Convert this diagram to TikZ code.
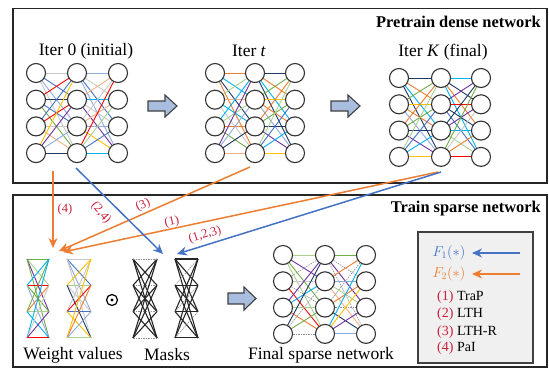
\documentclass[tikz,border=0pt]{standalone}
\usepackage{fontspec}
\setmainfont{Liberation Serif}
\usetikzlibrary{arrows.meta,calc}
\pgfdeclarelayer{bg}
\pgfsetlayers{bg,main}

% palette for the weight wires
\definecolor{c0}{HTML}{ED7D31}
\definecolor{c1}{HTML}{FFC000}
\definecolor{c2}{HTML}{70AD47}
\definecolor{c3}{HTML}{4472C4}
\definecolor{c4}{HTML}{203864}
\definecolor{c5}{HTML}{FF0000}
\definecolor{c6}{HTML}{7030A0}
\definecolor{c7}{HTML}{C8C8C8}
\definecolor{c8}{HTML}{00B0F0}
\definecolor{c9}{HTML}{F4B183}
\definecolor{c10}{HTML}{A9D18E}
\definecolor{c11}{HTML}{8FAADC}
\definecolor{flowO}{HTML}{ED7D31}
\definecolor{flowB}{HTML}{4472C4}
\definecolor{lblred}{HTML}{C8203C}
\definecolor{blockfill}{HTML}{A9BEDF}
\definecolor{legendfill}{HTML}{F0F0F0}

\tikzset{
  neuron/.style={circle,draw=black!80,fill=white,line width=1.1pt,minimum size=19pt,inner sep=0pt},
  wire/.style={line width=0.9pt},
  maskwire/.style={line width=1.1pt,black!85},
  prunedwire/.style={line width=0.6pt,dashed,dash pattern=on 1.5pt off 1pt,black!45},
  flow/.style={line width=1.5pt,-{Stealth[length=10pt,width=9pt]}},
  numlabel/.style={text=lblred,font=\fontsize{12.5}{14}\selectfont,inner sep=1pt},
  caption/.style={font=\fontsize{17.5}{20}\selectfont,inner sep=0pt},
  boxtitle/.style={font=\fontsize{16.4}{19}\selectfont\bfseries,inner sep=0pt,anchor=east},
  panel/.style={draw=black!85,line width=1.6pt},
  blockarrow/.style={draw=black!75,fill=blockfill,line width=1.1pt,line join=miter},
  legitem/.style={font=\fontsize{14}{16}\selectfont,inner sep=0pt,anchor=west},
}

% dense three-layer net: prefix, x1, x2, x3, top y, row gap, seed
\newcommand\densenet[7]{%
  \foreach \cc/\xx in {1/#2,2/#3,3/#4}{%
    \foreach \rr in {1,...,4}{%
      \node[neuron] (#1-\cc-\rr) at (\xx,{#5+(\rr-1)*#6}) {};
    }%
  }%
  \begin{pgfonlayer}{bg}
  \foreach \lay/\nxt in {1/2,2/3}{%
    \foreach \i in {1,...,4}{%
      \foreach \j in {1,...,4}{%
        \pgfmathtruncatemacro\ci{mod(\i*7+\j*5+\i*\j*3+\lay*4+#7,12)}%
        \draw[wire,color=c\ci] (#1-\lay-\i.center) -- (#1-\nxt-\j.center);
      }%
    }%
  }%
  \end{pgfonlayer}
}

% sparse three-layer net: some wires pruned (dashed grey)
\newcommand\sparsenet[7]{%
  \foreach \cc/\xx in {1/#2,2/#3,3/#4}{%
    \foreach \rr in {1,...,4}{%
      \node[neuron] (#1-\cc-\rr) at (\xx,{#5+(\rr-1)*#6}) {};
    }%
  }%
  \begin{pgfonlayer}{bg}
  \foreach \lay/\nxt in {1/2,2/3}{%
    \foreach \i in {1,...,4}{%
      \foreach \j in {1,...,4}{%
        \pgfmathtruncatemacro\ci{mod(\i*7+\j*5+\i*\j*3+\lay*4+#7,12)}%
        \pgfmathtruncatemacro\sk{mod(\i*3+\j*2+\lay+#7,4)}%
        \ifnum\sk=0
          \draw[prunedwire] (#1-\lay-\i.center) -- (#1-\nxt-\j.center);
        \else
          \draw[wire,color=c\ci] (#1-\lay-\i.center) -- (#1-\nxt-\j.center);
        \fi
      }%
    }%
  }%
  \end{pgfonlayer}
}

% bare bipartite wiring between two columns of points: prefix, x left, x right, top y, row gap, seed
\newcommand\weightgraph[6]{%
  \foreach \rr in {1,...,4}{%
    \coordinate (#1-l-\rr) at (#2,{#4+(\rr-1)*#5});
    \coordinate (#1-r-\rr) at (#3,{#4+(\rr-1)*#5});
  }%
  \foreach \i in {1,...,4}{%
    \foreach \j in {1,...,4}{%
      \pgfmathtruncatemacro\ci{mod(\i*5+\j*7+\i*\j+#6,12)}%
      \draw[wire,color=c\ci] (#1-l-\i) -- (#1-r-\j);
    }%
  }%
}

\newcommand\maskgraph[6]{%
  \foreach \rr in {1,...,4}{%
    \coordinate (#1-l-\rr) at (#2,{#4+(\rr-1)*#5});
    \coordinate (#1-r-\rr) at (#3,{#4+(\rr-1)*#5});
  }%
  \foreach \i in {1,...,4}{%
    \foreach \j in {1,...,4}{%
      \pgfmathtruncatemacro\sk{mod(\i*3+\j*2+#6,5)}%
      \ifnum\sk=0
        \draw[prunedwire] (#1-l-\i) -- (#1-r-\j);
      \else
        \draw[maskwire] (#1-l-\i) -- (#1-r-\j);
      \fi
    }%
  }%
}

\begin{document}
\begin{tikzpicture}[x=1pt,y=-1pt]
  \useasboundingbox (0,0) rectangle (549,368);

  % ---------- panels ----------
  \draw[panel] (13,8.5) rectangle (547,183);
  \draw[panel] (13,195) rectangle (547,367);
  \node[boxtitle] (t1) at (541,22) {Pretrain dense network};
  \node[boxtitle] (t2) at (541,209) {Train sparse network};

  % ---------- pretraining iterations ----------
  \node[caption] (l0) at (86,51) {Iter 0 (initial)};
  \node[caption] (lt) at (249,51) {Iter \textit{t}};
  \node[caption] (lk) at (443,52) {Iter \textit{K} (final)};

  \densenet{na}{36}{77}{118}{73}{26.7}{0}
  \densenet{nb}{215}{255}{295}{73}{26.7}{5}
  \densenet{nc}{399}{441}{481}{78}{26.3}{9}

  \draw[blockarrow] (148,101) -- (165,101) -- (165,95) -- (177,106) -- (165,117)
                    -- (165,111) -- (148,111) -- cycle;
  \draw[blockarrow] (331,101) -- (348,101) -- (348,95) -- (360,106) -- (348,117)
                    -- (348,111) -- (331,111) -- cycle;

  % ---------- sparse training ----------
  \weightgraph{wa}{27}{49}{259}{26.3}{1}
  \weightgraph{wb}{67}{91}{259}{26.3}{6}
  \maskgraph{ma}{133}{157}{259}{26.3}{0}
  \maskgraph{mb}{175}{198}{259}{26.3}{2}
  \draw[prunedwire] (ma-l-1) -- (ma-r-1);

  \node[circle,draw=black,line width=1.2pt,minimum size=11pt,inner sep=0pt] (odot) at (112,300) {};
  \fill (odot.center) circle (1.7pt);

  \draw[blockarrow] (228,293) -- (244,293) -- (244,287) -- (256,298.5) -- (244,310)
                    -- (244,304) -- (228,304) -- cycle;

  \sparsenet{nf}{283}{325}{366}{255}{26.3}{3}

  \node[caption] (cw) at (73,355) {Weight values};
  \node[caption] (cm) at (167,355) {Masks};
  \node[caption] (cf) at (321,355) {Final sparse network};

  % ---------- flows from pretraining to sparse training ----------
  \coordinate (s4) at (53,171);
  \coordinate (e4) at (53,248);
  \coordinate (s24) at (76,168);
  \coordinate (e24) at (163,254);
  \coordinate (s3) at (250,167);
  \coordinate (e3) at (59,251);
  \coordinate (s1) at (438,172);
  \coordinate (e1) at (63,252);
  \coordinate (s123) at (441,172);
  \coordinate (e123) at (177,254);

  \draw[flow,flowO] (s4) -- (e4);
  \draw[flow,flowO] (s3) -- (e3);
  \draw[flow,flowO] (s1) -- (e1);
  \draw[flow,flowB] (s24) -- (e24);
  \draw[flow,flowB] (s123) -- (e123);

  \node[numlabel] (n4) at (65,209) {(4)};
  \node[numlabel,rotate=-50] (n24) at (101,213) {(2,4)};
  \node[numlabel,rotate=24] (n3) at (143,205) {(3)};
  \node[numlabel,rotate=12] (n1) at (172,222) {(1)};
  \node[numlabel,rotate=17] (n123) at (205,235) {(1,2,3)};

  % ---------- legend ----------
  \draw[draw=black!75,fill=legendfill,line width=1.2pt] (418,232) rectangle (533,363);
  \node[font=\fontsize{14}{16}\selectfont,text=flowB,inner sep=0pt] (f1) at (449,253) {$F_1(*)$};
  \node[font=\fontsize{14}{16}\selectfont,text=flowO,inner sep=0pt] (f2) at (449,274) {$F_2(*)$};
  \coordinate (a1s) at (520,253);
  \coordinate (a1e) at (472,253);
  \coordinate (a2s) at (520,274);
  \coordinate (a2e) at (472,274);
  \draw[flow,flowB] (a1s) -- (a1e);
  \draw[flow,flowO] (a2s) -- (a2e);
  \node[legitem] (g1) at (437,297) {\textcolor{lblred}{(1)} TraP};
  \node[legitem] (g2) at (437,314) {\textcolor{lblred}{(2)} LTH};
  \node[legitem] (g3) at (437,332) {\textcolor{lblred}{(3)} LTH-R};
  \node[legitem] (g4) at (437,348) {\textcolor{lblred}{(4)} PaI};
\end{tikzpicture}
\end{document}
